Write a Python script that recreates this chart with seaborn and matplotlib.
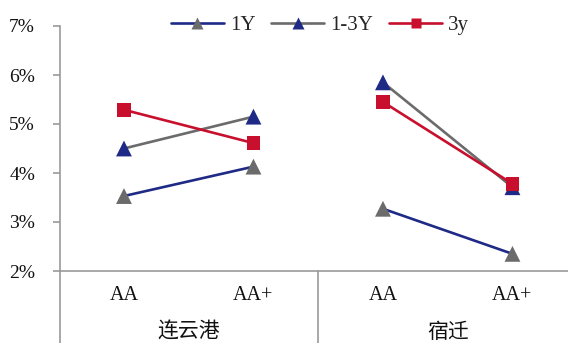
import numpy as np
import pandas as pd
import matplotlib
matplotlib.use("Agg")
import matplotlib.pyplot as plt
from matplotlib.lines import Line2D
import seaborn as sns

# Data
cities = ["连云港", "宿迁"]
ratings = ["AA", "AA+"]
series_names = ["1Y", "1-3Y", "3y"]
yield_1y = [3.53, 4.13, 3.27, 2.35]
yield_1_3y = [4.50, 5.15, 5.85, 3.71]
yield_3y = [5.29, 4.61, 5.45, 3.78]
y_ticks = [2, 3, 4, 5, 6, 7]

line_colors = {"1Y": "#1F2A87", "1-3Y": "#6B6B6B", "3y": "#C8102E"}
marker_colors = {"1Y": "#6B6B6B", "1-3Y": "#1F2A87", "3y": "#C8102E"}
marker_shapes = {"1Y": "^", "1-3Y": "^", "3y": "s"}

rows = []
for s, vals in zip(series_names, [yield_1y, yield_1_3y, yield_3y]):
    for i, v in enumerate(vals):
        rows.append({"series": s, "city": cities[i // 2],
                     "rating": ratings[i % 2], "pos": i, "value": v})
df = pd.DataFrame(rows)

sns.set_style("white")
plt.rcParams["font.family"] = ["Liberation Serif", "Noto Sans CJK SC"]

fig = plt.figure(figsize=(5.68, 3.43), dpi=100)
ax = fig.add_axes([60 / 568, 72 / 343, 508 / 568, 245 / 343])

sns.lineplot(data=df, x="pos", y="value", hue="series", units="city",
             estimator=None, palette=line_colors, linewidth=1.9,
             legend=False, ax=ax, zorder=2)
for s in series_names:
    sub = df[df["series"] == s]
    sns.scatterplot(data=sub, x="pos", y="value", marker=marker_shapes[s],
                    color=marker_colors[s], s=130 if s != "3y" else 95,
                    edgecolor="none", linewidth=0, legend=False, ax=ax,
                    zorder=3)

ax.set_xlim(-0.494, 3.429)
ax.set_ylim(2, 7)
ax.set_yticks(y_ticks)
ax.set_yticklabels([f"{t}%" for t in y_ticks], fontsize=14)
ax.set_xticks([])
ax.set_xlabel("")
ax.set_ylabel("")

axis_gray = "#9A9A9A"
for side in ["top", "right"]:
    ax.spines[side].set_visible(False)
ax.spines["left"].set_color(axis_gray)
ax.spines["bottom"].set_color(axis_gray)
ax.spines["left"].set_linewidth(1.2)
ax.spines["bottom"].set_linewidth(1.2)
ax.tick_params(axis="y", length=5, width=1.2, color=axis_gray, pad=13,
               left=True, labelcolor="#111111")

# Two-level category axis below the plot
trans = ax.get_xaxis_transform()
depth = -72 / 245
for xb in [-0.494, 1.5]:
    ax.plot([xb, xb], [0, depth], transform=trans, color=axis_gray,
            lw=1.2, clip_on=False)
for i in range(4):
    ax.text(i, -24 / 245, ratings[i % 2], transform=trans, ha="center",
            va="center", fontsize=14.5, color="#111111")
for j, c in enumerate(cities):
    ax.text(2 * j + 0.5, -61 / 245, c, transform=trans, ha="center",
            va="center", fontsize=15, color="#111111",
            family=["Noto Sans CJK SC"])

handles = [Line2D([0], [0], color=line_colors[s], lw=1.9,
                  marker=marker_shapes[s], markersize=8 if s != "3y" else 7,
                  markerfacecolor=marker_colors[s], markeredgecolor="none")
           for s in series_names]
fig.legend(handles, series_names, loc="center",
           bbox_to_anchor=(320 / 568, 1 - 25 / 343),
           ncol=3, frameon=False, fontsize=15, handlelength=2.55,
           handletextpad=0.3, columnspacing=0.75)

fig.savefig("out.png", dpi=100)
